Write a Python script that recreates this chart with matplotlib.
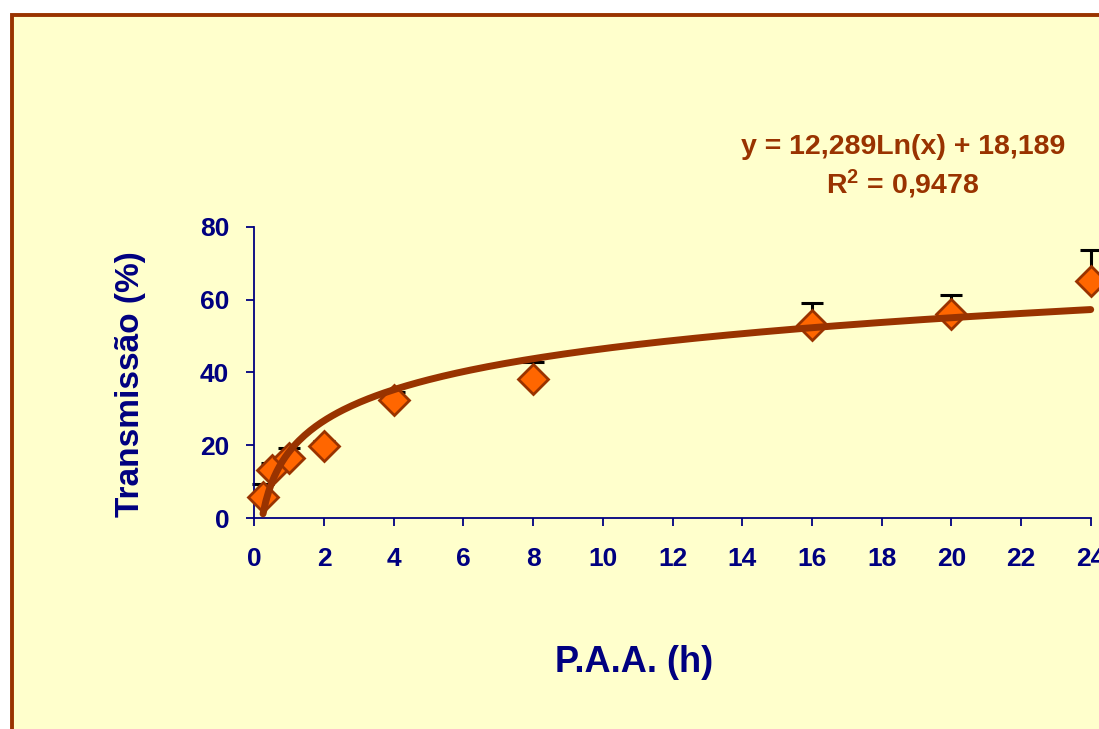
import matplotlib.pyplot as plt
from matplotlib.patches import Rectangle
import numpy as np

plt.rcParams['font.family'] = ['Liberation Sans', 'DejaVu Sans']
plt.rcParams['font.weight'] = 'bold'
plt.rcParams['mathtext.fontset'] = 'custom'
plt.rcParams['mathtext.rm'] = 'Liberation Sans:bold'
plt.rcParams['mathtext.bf'] = 'Liberation Sans:bold'
plt.rcParams['mathtext.default'] = 'bf'

# hours after inoculation vs transmission (%)
hours = [0.25, 0.5, 1, 2, 4, 8, 16, 20, 24]
transmission = [5.8, 13.2, 16.6, 19.7, 32.3, 38.3, 53.0, 56.0, 65.1]
err_upper = [3.5, 2.0, 2.7, 1.5, 2.2, 4.5, 6.0, 5.2, 8.6]

# logarithmic trend shown on the chart
coef_a = 12.289
coef_b = 18.189
r2_label = '0,9478'

navy = '#000080'
brown = '#993300'
orange = '#FF6600'

fig = plt.figure(figsize=(10.99, 7.29), dpi=100)
fig.patch.set_facecolor('white')

# yellow chart area with brown border
W, H = 1099, 729
frame = Rectangle((11.5 / W, 0 - 10 / H), 1.2, (729 - 14.5 + 10) / H,
                  transform=fig.transFigure, facecolor='#FFFFCC',
                  edgecolor=brown, linewidth=2.8, zorder=-5)
fig.patches.append(frame)

ax = fig.add_axes([254.3 / W, 211 / H, 836.4 / W, 291.3 / H])
ax.patch.set_visible(False)

ax.errorbar(hours, transmission, yerr=[np.zeros(len(hours)), err_upper],
            fmt='none', ecolor='black', elinewidth=2.2, capsize=8,
            capthick=2.2, zorder=2, clip_on=False)
ax.plot(hours, transmission, linestyle='none', marker='D', markersize=15.5,
        markerfacecolor=orange, markeredgecolor=brown, markeredgewidth=2,
        zorder=3, clip_on=False)

xs = np.linspace(hours[0], hours[-1], 300)
ax.plot(xs, coef_a * np.log(xs) + coef_b, color=brown, linewidth=5,
        solid_capstyle='round', zorder=4, clip_on=False)

ax.set_xlim(0, 24)
ax.set_ylim(0, 80)
ax.set_xticks(range(0, 25, 2))
ax.set_yticks(range(0, 81, 20))

for side in ['top', 'right']:
    ax.spines[side].set_visible(False)
for side in ['left', 'bottom']:
    ax.spines[side].set_color(navy)
    ax.spines[side].set_linewidth(1.3)

ax.tick_params(axis='both', colors=navy, direction='out', length=6,
               width=1.3, labelsize=19)
ax.tick_params(axis='x', pad=15)
ax.tick_params(axis='y', pad=12)
for lbl in ax.get_xticklabels() + ax.get_yticklabels():
    lbl.set_fontweight('bold')

fig.text(634 / W, 1 - 662 / H, 'P.A.A. (h)', ha='center', va='center',
         fontsize=26, fontweight='bold', color=navy)
fig.text(130 / W, 1 - 384 / H, 'Transmissão (%)', ha='center', va='center',
         rotation=90, fontsize=24, fontweight='bold', color=navy)

eq = 'y = {:.3f}Ln(x) + {:.3f}'.format(coef_a, coef_b).replace('.', ',')
fig.text(903 / W, 1 - 147 / H, eq, ha='center', va='center',
         fontsize=20.5, fontweight='bold', color=brown)
fig.text(903 / W, 1 - 184 / H, 'R$^2$ = ' + r2_label, ha='center',
         va='center', fontsize=20.5, fontweight='bold', color=brown)

fig.savefig('out.png', dpi=100)
